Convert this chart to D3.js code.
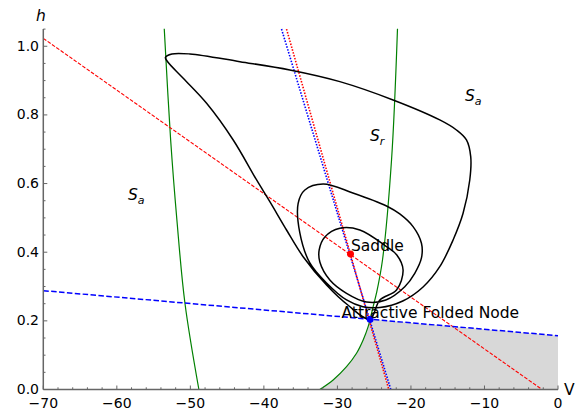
<!DOCTYPE html>
<html><head><meta charset="utf-8">
<script src="https://cdn.jsdelivr.net/npm/d3@7"></script>
<style>body{margin:0;background:#fff}svg{display:block}text{font-family:"DejaVu Sans",sans-serif}</style>
</head><body><svg id="c" width="582" height="413"></svg>
<script>
// ---- data ----
const xTicks = [-70, -60, -50, -40, -30, -20, -10, 0];
const yTicks = [0.0, 0.2, 0.4, 0.6, 0.8, 1.0];
const yTickLabels = ["0.0", "0.2", "0.4", "0.6", "0.8", "1.0"];
// trajectory (V, h)
const trajV = [-25.59,-24.23,-21.96,-21.07,-21.92,-23.32,-26.95,-29.67,-31.71,-32.48,-32.39,-31.03,-28.76,-26.04,
  -23.42,-20.84,-19.48,-18.57,-18.57,-19.71,-21.52,-23.32,-27.90,-31.94,-34.43,-35.34,-35.11,-33.75,-31.48,-28.76,-26.54,
  -24.23,-21.11,-18.35,-16.08,-14.27,-12.91,-12.00,-11.87,-12.45,-13.81,-16.08,-22.43,-29.67,-36.47,-43.26,-50.06,-52.51,-53.39,-53.12,
  -50.97,-47.79,-44.17,-40.99,-39.19,-36.92,-34.66,-31.48,-28.58];
const trajH = [0.2054,0.2608,0.2899,0.3482,0.3919,0.4161,0.4647,0.4697,0.4443,0.4065,0.3715,0.3191,0.2803,0.2550,
  0.2608,0.2995,0.3386,0.3832,0.4260,0.4744,0.5114,0.5347,0.5726,0.5988,0.5813,0.5425,0.4560,0.3686,0.3103,0.2608,0.2413,
  0.2389,0.2579,0.2987,0.3578,0.4356,0.5134,0.6104,0.6783,0.7270,0.7561,0.7853,0.8435,0.8969,0.9309,0.9551,0.9776,0.9776,0.9674,0.9557,
  0.9068,0.8339,0.7270,0.6104,0.5472,0.4647,0.3869,0.3045,0.2462];
// fold curves (green)
const foldLeftV = [-53.55, -52.68, -51.83, -50.74, -48.84];
const foldLeftH = [1.051, 0.727, 0.494, 0.252, 0.0];
const foldRightV = [-32.39, -30.58, -28.76, -27.40, -26.50, -25.82, -25.55, -25.14, -24.68, -23.87, -22.64, -21.83];
const foldRightH = [0.0, 0.0277, 0.0664, 0.1055, 0.1442, 0.1830, 0.205, 0.2413, 0.2812, 0.3773, 0.6687, 1.051];
// straight lines [V0,h0,V1,h1]
const redDashed = [-70, 1.023, -2.17, 0];
const blueDashed = [-70, 0.2879, 0, 0.1568];
const redDotted = [-36.92, 1.05, -23.01, 0];
const blueDotted = [-37.60, 1.05, -22.74, 0];
const saddle = [-28.22, 0.395];
const node = [-25.55, 0.205];

// ---- chart ----
const svg = d3.select("#c");
const x = d3.scaleLinear().domain([-70, 0]).range([43.3, 558]);
const y = d3.scaleLinear().domain([0, 1.05]).range([389.5, 29.1]);
const line = d3.line().x(d => x(d[0])).y(d => y(d[1]));

// gray region: right of right fold, below blue dashed line
const blueAt = v => blueDashed[1] + (blueDashed[3] - blueDashed[1]) * (v - blueDashed[0]) / (blueDashed[2] - blueDashed[0]);
const region = [];
for (let i = 6; i >= 0; i--) region.push([foldRightV[i], foldRightH[i]]);
region.push([0, 0], [0, blueAt(0)], [node[0], blueAt(node[0])]);
svg.append("path").attr("d", d3.line().x(d => x(d[0])).y(d => y(d[1])).curve(d3.curveLinear)(region))
  .attr("fill", "#d8d8d8").attr("stroke", "none");

// green fold curves
const gl = d3.line().x(d => x(d[0])).y(d => y(d[1])).curve(d3.curveCatmullRom);
svg.append("path").attr("d", gl(foldLeftV.map((v, i) => [v, foldLeftH[i]])))
  .attr("fill", "none").attr("stroke", "#008000").attr("stroke-width", 1.2);
svg.append("path").attr("d", gl(foldRightV.map((v, i) => [v, foldRightH[i]])))
  .attr("fill", "none").attr("stroke", "#008000").attr("stroke-width", 1.2);

function seg(a, color, dash, w) {
  svg.append("path").attr("d", line([[a[0], a[1]], [a[2], a[3]]]))
    .attr("fill", "none").attr("stroke", color).attr("stroke-width", w).attr("stroke-dasharray", dash);
}
seg(redDashed, "#ff0000", "3.7,1.6", 1.1);
seg(blueDashed, "#0000ff", "5.5,2.4", 1.5);
seg(blueDotted, "#0000ff", "1.5,1.5", 1.6);
seg(redDotted, "#ff0000", "1.5,1.5", 1.6);

// trajectory
svg.append("path").attr("d", d3.line().x(d => x(d[0])).y(d => y(d[1])).curve(d3.curveCatmullRomClosed.alpha(0.5))(trajV.map((v, i) => [v, trajH[i]])))
  .attr("fill", "none").attr("stroke", "#000").attr("stroke-width", 1.5);

// points
svg.append("circle").attr("cx", x(saddle[0])).attr("cy", y(saddle[1])).attr("r", 3.5).attr("fill", "#ff0000");
svg.append("circle").attr("cx", x(node[0])).attr("cy", y(node[1])).attr("r", 3.5).attr("fill", "#0000ff");

// labels
svg.append("text").attr("x", x(saddle[0]) + 0.5).attr("y", y(saddle[1]) - 3).attr("font-size", 15.5).attr("fill", "#000").text("Saddle");
svg.append("text").attr("x", 341.5).attr("y", y(node[1]) - 1.5).attr("font-size", 15.5).attr("fill", "#000").text("Attractive Folded Node");

function sLabel(px, py, sub) {
  const t = svg.append("text").attr("x", px).attr("y", py).attr("font-size", 15.5).attr("font-style", "italic");
  t.append("tspan").text("S");
  t.append("tspan").attr("dy", 4).attr("font-size", 11).text(sub);
}
sLabel(128, 199.5, "a");
sLabel(465, 101, "a");
sLabel(370, 141, "r");

// axes
const axCol = "#666";
const gx = svg.append("g");
gx.append("line").attr("x1", x(-70)).attr("x2", x(0)).attr("y1", y(0)).attr("y2", y(0)).attr("stroke", axCol).attr("stroke-width", 1.5);
d3.range(-70, 0.1, 2).forEach(v => {
  const major = Math.abs(v % 10) < 1e-9;
  gx.append("line").attr("x1", x(v)).attr("x2", x(v)).attr("y1", y(0)).attr("y2", y(0) - (major ? 4 : 2.2)).attr("stroke", axCol).attr("stroke-width", 1);
});
xTicks.forEach(v => {
  gx.append("text").attr("x", x(v)).attr("y", 407.5).attr("text-anchor", "middle").attr("font-size", 14).attr("fill", "#000")
    .text(v < 0 ? "\u2212" + Math.abs(v) : String(v));
});
const gy = svg.append("g");
gy.append("line").attr("x1", x(-70)).attr("x2", x(-70)).attr("y1", y(0)).attr("y2", y(1.05)).attr("stroke", axCol).attr("stroke-width", 1.5);
d3.range(0, 1.051, 0.05).forEach(v => {
  const major = Math.abs(Math.round(v * 20) % 4) === 0;
  gy.append("line").attr("x1", x(-70)).attr("x2", x(-70) + (major ? 4 : 2.2)).attr("y1", y(v)).attr("y2", y(v)).attr("stroke", axCol).attr("stroke-width", 1);
});
yTicks.forEach((v, i) => {
  gy.append("text").attr("x", 39).attr("y", y(v) + 4.5).attr("text-anchor", "end").attr("font-size", 14).attr("fill", "#000").text(yTickLabels[i]);
});
svg.append("text").attr("x", 36).attr("y", 21).attr("font-size", 15.5).attr("font-style", "italic").text("h");
svg.append("text").attr("x", 564).attr("y", 395).attr("font-size", 15.5).text("V");
</script></body></html>
